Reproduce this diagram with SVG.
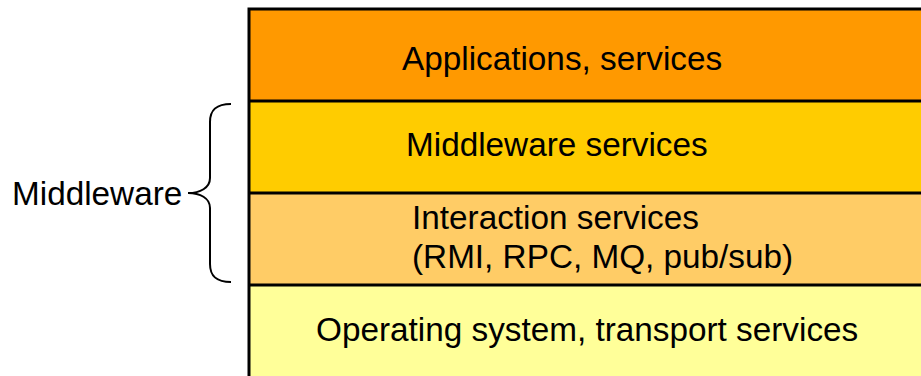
<svg xmlns="http://www.w3.org/2000/svg" width="921" height="376" viewBox="0 0 921 376">
  <style>
    .lbl { font-family: "Liberation Sans", Arial, sans-serif; font-size: 33.3px; fill: #000; }
    .edge { stroke: #000; stroke-width: 3; fill: none; }
    .brace { stroke: #000; stroke-width: 2; fill: none; }
  </style>
  <rect width="921" height="376" fill="#fff"/>

  <g id="layer-apps">
    <rect x="249" y="9" width="680" height="92" fill="#FF9900"/>
    <text class="lbl" x="402" y="70">Applications, services</text>
  </g>
  <g id="layer-middleware-services">
    <rect x="249" y="101" width="680" height="92" fill="#FFCC00"/>
    <text class="lbl" x="406" y="156">Middleware services</text>
  </g>
  <g id="layer-interaction">
    <rect x="249" y="193" width="680" height="92" fill="#FFCC66"/>
    <text class="lbl" x="412" y="229">Interaction services</text>
    <text class="lbl" x="412" y="268">(RMI, RPC, MQ, pub/sub)</text>
  </g>
  <g id="layer-os">
    <rect x="249" y="285" width="680" height="100" fill="#FFFF99"/>
    <text class="lbl" x="316" y="341">Operating system, transport services</text>
  </g>

  <g id="connectors">
    <path class="edge" d="M249,380 V9 H925"/>
    <line class="edge" x1="249" y1="101" x2="925" y2="101"/>
    <line class="edge" x1="249" y1="193" x2="925" y2="193" stroke-width="2"/>
    <line class="edge" x1="249" y1="285" x2="925" y2="285" stroke-width="2"/>
  </g>

  <g id="middleware-brace">
    <path class="brace" d="M231,104 C216,104 210,110 210,122 V178 C210,188 200,193 188,193 C200,193 210,198 210,208 V264 C210,276 216,282 231,282"/>
    <text class="lbl" x="12" y="205">Middleware</text>
  </g>
</svg>
